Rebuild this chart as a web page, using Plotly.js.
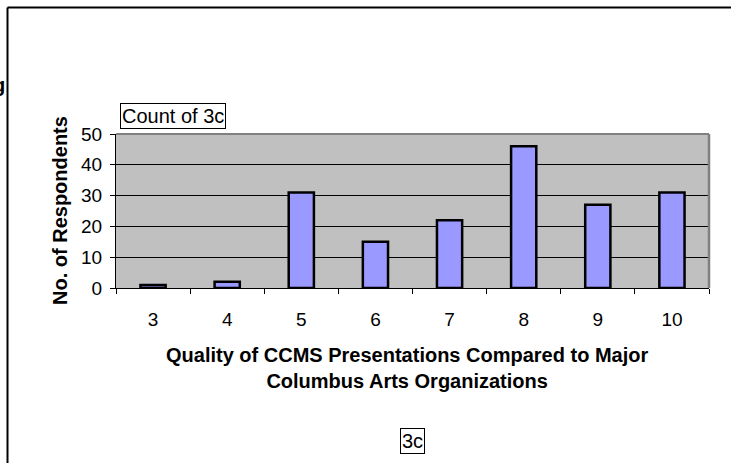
<!DOCTYPE html>
<html>
<head>
<meta charset="utf-8">
<script src="https://cdn.plot.ly/plotly-3.0.1.min.js"></script>
<style>
html,body{margin:0;padding:0;background:#fff;overflow:hidden;}
#chart{width:731px;height:463px;}
</style>
</head>
<body>
<div id="chart"></div>
<script>
var categories = ["3", "4", "5", "6", "7", "8", "9", "10"];
var counts = [1, 2, 31, 15, 22, 46, 27, 31];
var yTicks = [0, 10, 20, 30, 40, 50];

var FONT = "Arial, 'Liberation Sans', sans-serif";
var L = 116, R = 709, T = 134, B = 288;
var PW = R - L, PH = B - T;
function px(x) { return (x - L) / PW; }
function py(y) { return (B - y) / PH; }

var trace = {
  type: "bar",
  x: categories,
  y: counts,
  marker: { color: "#9999FF", line: { color: "#000000", width: 2.5 } },
  hoverinfo: "none"
};

var layout = {
  width: 731,
  height: 463,
  margin: { l: L, r: 731 - R, t: T, b: 463 - B, pad: 0 },
  paper_bgcolor: "#ffffff",
  plot_bgcolor: "#C0C0C0",
  showlegend: false,
  bargap: 0.66,
  font: { family: FONT, color: "#000000", size: 19 },
  xaxis: {
    type: "category",
    categoryorder: "array",
    categoryarray: categories,
    showgrid: false,
    zeroline: false,
    showline: true,
    linecolor: "#000000",
    linewidth: 1,
    ticks: "outside",
    tickson: "boundaries",
    ticklen: 5,
    tickcolor: "#000000",
    tickfont: { family: FONT, size: 19, color: "#000000" },
    ticklabelstandoff: 14
  },
  yaxis: {
    range: [0, 50],
    tickmode: "array",
    tickvals: yTicks,
    ticktext: yTicks.map(String),
    showgrid: true,
    gridcolor: "#000000",
    gridwidth: 1,
    zeroline: false,
    showline: true,
    linecolor: "#000000",
    linewidth: 1,
    ticks: "outside",
    ticklen: 5,
    tickcolor: "#000000",
    tickfont: { family: FONT, size: 19, color: "#000000" },
    ticklabelstandoff: 4
  },
  shapes: [
    { type: "line", xref: "paper", yref: "paper", x0: 0, x1: 1, y0: 1, y1: 1,
      line: { color: "#808080", width: 2 } },
    { type: "line", xref: "paper", yref: "paper", x0: 1, x1: 1, y0: 0, y1: 1,
      line: { color: "#808080", width: 2.5 } },
    { type: "line", xref: "paper", yref: "paper",
      x0: px(7.5), x1: px(1200), y0: py(7.5), y1: py(7.5),
      line: { color: "#000000", width: 2 } },
    { type: "line", xref: "paper", yref: "paper",
      x0: px(7.5), x1: px(7.5), y0: py(7.5), y1: py(1200),
      line: { color: "#000000", width: 2 } }
  ],
  annotations: [
    { xref: "paper", yref: "paper", x: px(173), y: py(116), xanchor: "center", yanchor: "middle",
      text: "Count of 3c", showarrow: false, bgcolor: "#ffffff", bordercolor: "#000000",
      borderwidth: 1, borderpad: 1, font: { family: FONT, size: 20, color: "#000000" } },
    { xref: "paper", yref: "paper", x: px(412), y: py(440.5), xanchor: "center", yanchor: "middle",
      text: "3c", showarrow: false, bgcolor: "#ffffff", bordercolor: "#000000",
      borderwidth: 1, borderpad: 1, font: { family: FONT, size: 20, color: "#000000" } },
    { xref: "paper", yref: "paper", x: px(407.5), y: py(368), xanchor: "center", yanchor: "middle",
      text: "<b>Quality of CCMS Presentations Compared to Major<br>Columbus Arts Organizations</b>",
      showarrow: false, align: "center", font: { family: FONT, size: 20, color: "#000000" } },
    { xref: "paper", yref: "paper", x: px(60), y: py(211), xanchor: "center", yanchor: "middle",
      text: "<b>No. of Respondents</b>", textangle: -90, showarrow: false,
      font: { family: FONT, size: 20, color: "#000000" } },
    { xref: "paper", yref: "paper", x: px(7), y: py(85), xanchor: "right", yanchor: "middle",
      text: "<b>Rating</b>", showarrow: false,
      font: { family: FONT, size: 20, color: "#000000" } }
  ]
};

Plotly.newPlot("chart", [trace], layout, { displayModeBar: false, staticPlot: true });
</script>
</body>
</html>
